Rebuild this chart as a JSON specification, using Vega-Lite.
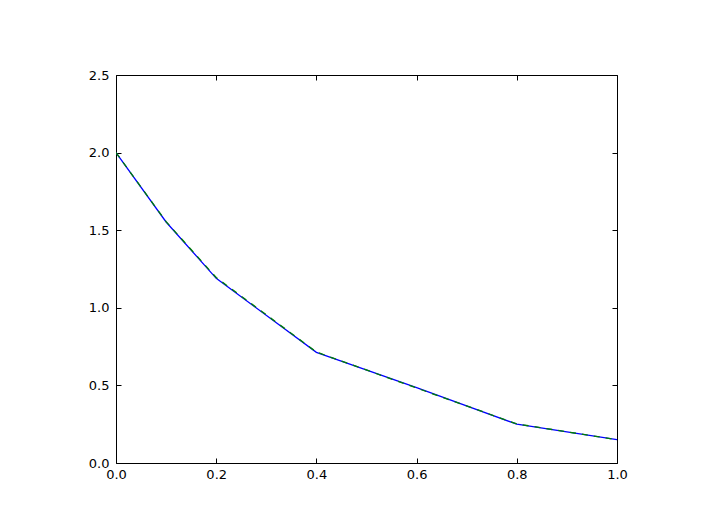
{
  "$schema": "https://vega.github.io/schema/vega-lite/v6.json",
  "width": 501,
  "height": 388,
  "autosize": "none",
  "padding": {"left": 116, "top": 75, "right": 101, "bottom": 49},
  "background": "white",
  "config": {
    "view": {"stroke": "black", "strokeWidth": 1},
    "axis": {
      "labelFont": "DejaVu Sans",
      "labelFontSize": 13,
      "labelColor": "black",
      "domain": false,
      "grid": false,
      "tickColor": "black",
      "tickSize": 5,
      "offset": -5,
      "tickWidth": 1,
      "title": null
    }
  },
  "data": {
    "values": [
      {"x": 0.0, "y": 2.0, "s": "a"},
      {"x": 0.1, "y": 1.553, "s": "a"},
      {"x": 0.2, "y": 1.19, "s": "a"},
      {"x": 0.4, "y": 0.713, "s": "a"},
      {"x": 0.6, "y": 0.485, "s": "a"},
      {"x": 0.8, "y": 0.25, "s": "a"},
      {"x": 1.0, "y": 0.15, "s": "a"},
      {"x": 0.0, "y": 2.0, "s": "b"},
      {"x": 0.1, "y": 1.555, "s": "b"},
      {"x": 0.2, "y": 1.195, "s": "b"},
      {"x": 0.4, "y": 0.715, "s": "b"},
      {"x": 0.6, "y": 0.483, "s": "b"},
      {"x": 0.8, "y": 0.252, "s": "b"},
      {"x": 1.0, "y": 0.15, "s": "b"}
    ]
  },
  "layer": [
    {
      "transform": [{"filter": "datum.s === 'a'"}],
      "mark": {"type": "line", "strokeWidth": 1.3, "color": "#0000ff", "clip": true},
      "encoding": {
        "x": {"field": "x", "type": "quantitative", "scale": {"domain": [0, 1], "nice": false},
              "axis": {"orient": "bottom", "values": [0, 0.2, 0.4, 0.6, 0.8, 1.0], "format": ".1f", "labelPadding": 5, "labelFlush": false}},
        "y": {"field": "y", "type": "quantitative", "scale": {"domain": [0, 2.5], "nice": false, "zero": false},
              "axis": {"orient": "left", "values": [0, 0.5, 1.0, 1.5, 2.0, 2.5], "format": ".1f", "labelPadding": 7, "labelFlush": false}}
      }
    },
    {
      "transform": [{"filter": "datum.s === 'b'"}],
      "mark": {"type": "line", "strokeWidth": 1.3, "color": "#008000", "strokeDash": [6, 6], "clip": true},
      "encoding": {
        "x": {"field": "x", "type": "quantitative", "scale": {"domain": [0, 1], "nice": false},
              "axis": {"orient": "top", "values": [0, 0.2, 0.4, 0.6, 0.8, 1.0], "labels": false}},
        "y": {"field": "y", "type": "quantitative", "scale": {"domain": [0, 2.5], "nice": false, "zero": false},
              "axis": {"orient": "right", "values": [0, 0.5, 1.0, 1.5, 2.0, 2.5], "labels": false}}
      }
    }
  ],
  "resolve": {"axis": {"x": "independent", "y": "independent"}}
}
